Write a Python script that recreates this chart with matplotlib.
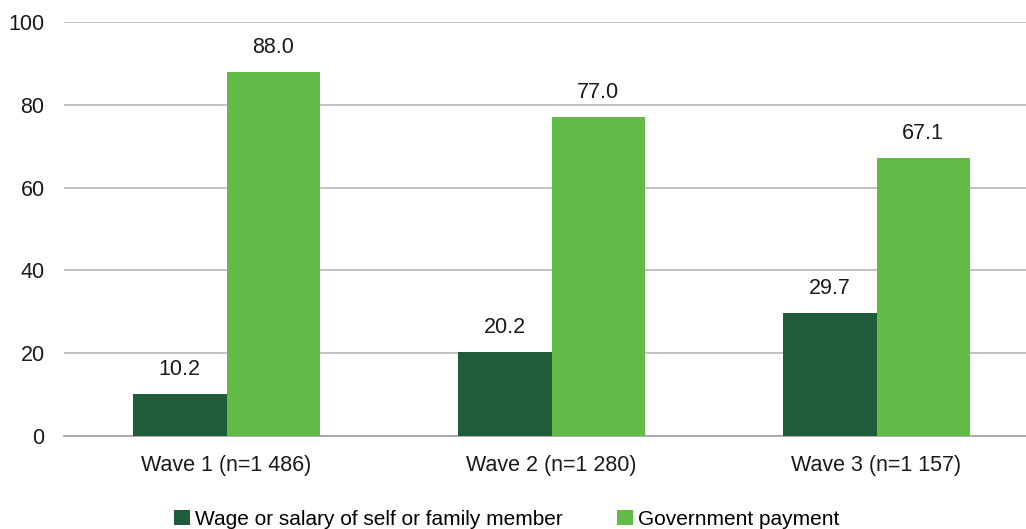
import matplotlib.pyplot as plt
import numpy as np

plt.rcParams['font.family'] = ['Liberation Sans', 'DejaVu Sans']

# data
waves = ['Wave 1 (n=1 486)', 'Wave 2 (n=1 280)', 'Wave 3 (n=1 157)']
wage = [10.2, 20.2, 29.7]
govt = [88.0, 77.0, 67.1]
series_names = ['Wage or salary of self or family member', 'Government payment']

dark = '#1f5c39'
light = '#62bb46'

fig = plt.figure(figsize=(10.26, 5.29), dpi=100)
ax = fig.add_axes([64/1026, 93/529, 962/1026, 414/529])

x = np.arange(len(waves))
w = 0.288
b1 = ax.bar(x - w/2, wage, w, color=dark, label=series_names[0], zorder=3)
b2 = ax.bar(x + w/2, govt, w, color=light, label=series_names[1], zorder=3)

for bars, vals in [(b1, wage), (b2, govt)]:
    for r, v in zip(bars, vals):
        ax.annotate(f'{v:.1f}', (r.get_x() + r.get_width()/2, v),
                    xytext=(0, 10), textcoords='offset points',
                    ha='center', va='bottom', fontsize=15.5, color='#1a1a1a')

ax.set_xlim(-0.5, 2.46)
ax.set_ylim(0, 100)
ax.set_yticks([0, 20, 40, 60, 80, 100])
ax.set_xticks(x)
ax.set_xticklabels(waves)
ax.tick_params(axis='both', length=0, labelsize=15.5, colors='#1a1a1a')
ax.tick_params(axis='y', pad=14)
ax.tick_params(axis='x', pad=14)
ax.yaxis.grid(True, color='#b8b8b8', linewidth=1.2, zorder=0)
for s in ['top', 'right', 'left']:
    ax.spines[s].set_visible(False)
ax.spines['bottom'].set_color('#a0a0a0')
ax.spines['bottom'].set_linewidth(1.2)

fig.legend(loc='lower center', bbox_to_anchor=(0.494, -0.035), ncol=2, frameon=False,
           fontsize=15, handlelength=0.75, handleheight=0.75, handletextpad=0.25,
           columnspacing=2.6)

fig.savefig('out.png', dpi=100)
